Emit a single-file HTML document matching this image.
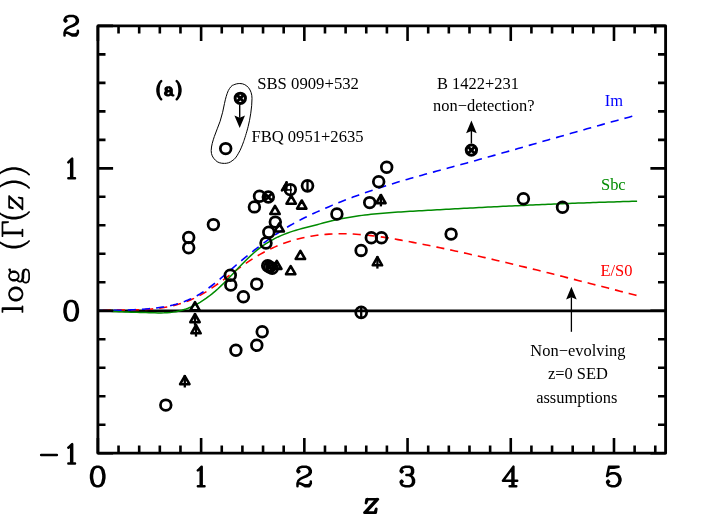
<!DOCTYPE html>
<html><head><meta charset="utf-8"><title>log Gamma(z) vs z</title>
<style>html,body{margin:0;padding:0;background:#fff;}svg{display:block;}text{font-family:"Liberation Serif",serif;}</style>
</head><body>
<div id="plot" style="width:708px;height:529px;will-change:transform;">
<svg width="708" height="529" viewBox="0 0 708 529">
<rect x="0" y="0" width="708" height="529" fill="#fff"/>
<line x1="97.90" y1="310.77" x2="665.60" y2="310.77" stroke="#000" stroke-width="2.75"/>
<path d="M98.00 310.40 L101.00 310.36 L104.00 310.26 L107.00 310.18 L110.00 310.12 L113.00 310.08 L116.00 310.05 L119.00 310.03 L122.00 310.01 L125.00 309.99 L128.00 309.96 L131.00 309.93 L134.00 309.87 L137.00 309.80 L140.00 309.70 L143.00 309.58 L146.00 309.41 L149.00 309.21 L152.00 308.97 L155.00 308.68 L158.00 308.33 L161.00 307.93 L164.00 307.47 L167.00 306.93 L170.00 306.33 L173.00 305.65 L176.00 304.89 L179.00 304.05 L182.00 303.11 L185.00 302.08 L188.00 300.95 L191.00 299.72 L194.00 298.37 L197.00 296.92 L200.00 295.34 L203.00 293.65 L206.00 291.84 L209.00 289.94 L212.00 287.95 L215.00 285.89 L218.00 283.76 L221.00 281.59 L224.00 279.38 L227.00 277.14 L230.00 274.89 L233.00 272.65 L236.00 270.41 L239.00 268.20 L242.00 266.02 L245.00 263.90 L248.00 261.83 L251.00 259.84 L254.00 257.93 L257.00 256.11 L260.00 254.37 L263.00 252.71 L266.00 251.13 L269.00 249.63 L272.00 248.21 L275.00 246.86 L278.00 245.59 L281.00 244.39 L284.00 243.27 L287.00 242.22 L290.00 241.23 L293.00 240.32 L296.00 239.47 L299.00 238.68 L302.00 237.97 L305.00 237.31 L308.00 236.71 L311.00 236.18 L314.00 235.70 L317.00 235.28 L320.00 234.91 L323.00 234.60 L326.00 234.33 L329.00 234.12 L332.00 233.96 L335.00 233.85 L338.00 233.78 L341.00 233.75 L344.00 233.77 L347.00 233.83 L350.00 233.92 L353.00 234.06 L356.00 234.23 L359.00 234.44 L362.00 234.68 L365.00 234.95 L368.00 235.25 L371.00 235.58 L374.00 235.94 L377.00 236.33 L380.00 236.73 L383.00 237.16 L386.00 237.61 L389.00 238.08 L392.00 238.57 L395.00 239.08 L398.00 239.60 L401.00 240.13 L404.00 240.67 L407.00 241.23 L410.00 241.79 L413.00 242.36 L416.00 242.94 L419.00 243.52 L422.00 244.11 L425.00 244.70 L428.00 245.30 L431.00 245.91 L434.00 246.52 L437.00 247.13 L440.00 247.75 L443.00 248.38 L446.00 249.01 L449.00 249.65 L452.00 250.29 L455.00 250.93 L458.00 251.58 L461.00 252.24 L464.00 252.90 L467.00 253.56 L470.00 254.23 L473.00 254.90 L476.00 255.58 L479.00 256.26 L482.00 256.94 L485.00 257.63 L488.00 258.32 L491.00 259.02 L494.00 259.72 L497.00 260.42 L500.00 261.13 L503.00 261.84 L506.00 262.55 L509.00 263.26 L512.00 263.98 L515.00 264.71 L518.00 265.43 L521.00 266.16 L524.00 266.89 L527.00 267.62 L530.00 268.36 L533.00 269.10 L536.00 269.84 L539.00 270.58 L542.00 271.32 L545.00 272.07 L548.00 272.82 L551.00 273.57 L554.00 274.32 L557.00 275.08 L560.00 275.83 L563.00 276.59 L566.00 277.35 L569.00 278.11 L572.00 278.87 L575.00 279.63 L578.00 280.40 L581.00 281.16 L584.00 281.93 L587.00 282.69 L590.00 283.46 L593.00 284.23 L596.00 285.00 L599.00 285.76 L602.00 286.53 L605.00 287.30 L608.00 288.07 L611.00 288.84 L614.00 289.61 L617.00 290.38 L620.00 291.15 L623.00 291.92 L626.00 292.69 L629.00 293.46 L632.00 294.22 L635.00 294.99 L636.50 295.37" fill="none" stroke="#ff0000" stroke-width="1.6" stroke-dasharray="8.1 6.03" stroke-dashoffset="9.36"/>
<path d="M98.00 310.40 L101.00 310.49 L104.00 310.47 L107.00 310.45 L110.00 310.41 L113.00 310.37 L116.00 310.32 L119.00 310.26 L122.00 310.19 L125.00 310.10 L128.00 309.99 L131.00 309.87 L134.00 309.73 L137.00 309.57 L140.00 309.39 L143.00 309.18 L146.00 308.95 L149.00 308.70 L152.00 308.42 L155.00 308.10 L158.00 307.74 L161.00 307.33 L164.00 306.86 L167.00 306.32 L170.00 305.72 L173.00 305.03 L176.00 304.25 L179.00 303.38 L182.00 302.40 L185.00 301.31 L188.00 300.10 L191.00 298.77 L194.00 297.30 L197.00 295.68 L200.00 293.92 L203.00 292.01 L206.00 289.95 L209.00 287.77 L212.00 285.49 L215.00 283.11 L218.00 280.66 L221.00 278.15 L224.00 275.59 L227.00 273.00 L230.00 270.41 L233.00 267.81 L236.00 265.24 L239.00 262.69 L242.00 260.16 L245.00 257.67 L248.00 255.22 L251.00 252.79 L254.00 250.41 L257.00 248.06 L260.00 245.76 L263.00 243.50 L266.00 241.29 L269.00 239.13 L272.00 237.02 L275.00 234.96 L278.00 232.96 L281.00 231.01 L284.00 229.13 L287.00 227.31 L290.00 225.55 L293.00 223.85 L296.00 222.20 L299.00 220.61 L302.00 219.06 L305.00 217.55 L308.00 216.08 L311.00 214.65 L314.00 213.25 L317.00 211.89 L320.00 210.54 L323.00 209.22 L326.00 207.92 L329.00 206.64 L332.00 205.38 L335.00 204.14 L338.00 202.92 L341.00 201.72 L344.00 200.54 L347.00 199.38 L350.00 198.24 L353.00 197.11 L356.00 196.00 L359.00 194.91 L362.00 193.83 L365.00 192.78 L368.00 191.73 L371.00 190.71 L374.00 189.69 L377.00 188.69 L380.00 187.71 L383.00 186.74 L386.00 185.79 L389.00 184.84 L392.00 183.91 L395.00 183.00 L398.00 182.09 L401.00 181.19 L404.00 180.31 L407.00 179.43 L410.00 178.56 L413.00 177.70 L416.00 176.85 L419.00 176.00 L422.00 175.17 L425.00 174.33 L428.00 173.50 L431.00 172.68 L434.00 171.86 L437.00 171.04 L440.00 170.23 L443.00 169.41 L446.00 168.60 L449.00 167.79 L452.00 166.98 L455.00 166.16 L458.00 165.35 L461.00 164.54 L464.00 163.72 L467.00 162.90 L470.00 162.07 L473.00 161.24 L476.00 160.41 L479.00 159.58 L482.00 158.75 L485.00 157.91 L488.00 157.07 L491.00 156.23 L494.00 155.38 L497.00 154.54 L500.00 153.69 L503.00 152.84 L506.00 151.99 L509.00 151.14 L512.00 150.28 L515.00 149.43 L518.00 148.57 L521.00 147.71 L524.00 146.86 L527.00 146.00 L530.00 145.14 L533.00 144.28 L536.00 143.42 L539.00 142.56 L542.00 141.70 L545.00 140.83 L548.00 139.97 L551.00 139.11 L554.00 138.25 L557.00 137.39 L560.00 136.53 L563.00 135.67 L566.00 134.81 L569.00 133.96 L572.00 133.10 L575.00 132.24 L578.00 131.39 L581.00 130.54 L584.00 129.69 L587.00 128.83 L590.00 127.99 L593.00 127.14 L596.00 126.29 L599.00 125.45 L602.00 124.61 L605.00 123.77 L608.00 122.94 L611.00 122.10 L614.00 121.27 L617.00 120.44 L620.00 119.62 L623.00 118.79 L626.00 117.97 L629.00 117.16 L632.00 116.34 L632.30 116.26" fill="none" stroke="#0000ff" stroke-width="1.6" stroke-dasharray="8.14 6.07" stroke-dashoffset="12.88"/>
<path d="M98.00 310.40 L101.00 310.88 L104.00 311.04 L107.00 311.20 L110.00 311.34 L113.00 311.48 L116.00 311.60 L119.00 311.73 L122.00 311.84 L125.00 311.95 L128.00 312.05 L131.00 312.15 L134.00 312.25 L137.00 312.34 L140.00 312.44 L143.00 312.53 L146.00 312.62 L149.00 312.71 L152.00 312.80 L155.00 312.87 L158.00 312.92 L161.00 312.91 L164.00 312.85 L167.00 312.70 L170.00 312.47 L173.00 312.12 L176.00 311.65 L179.00 311.03 L182.00 310.27 L185.00 309.34 L188.00 308.26 L191.00 307.01 L194.00 305.61 L197.00 304.05 L200.00 302.34 L203.00 300.46 L206.00 298.42 L209.00 296.23 L212.00 293.88 L215.00 291.37 L218.00 288.70 L221.00 285.88 L224.00 282.94 L227.00 279.90 L230.00 276.79 L233.00 273.65 L236.00 270.48 L239.00 267.33 L242.00 264.22 L245.00 261.18 L248.00 258.23 L251.00 255.39 L254.00 252.71 L257.00 250.19 L260.00 247.85 L263.00 245.67 L266.00 243.65 L269.00 241.77 L272.00 240.04 L275.00 238.43 L278.00 236.95 L281.00 235.59 L284.00 234.33 L287.00 233.18 L290.00 232.11 L293.00 231.13 L296.00 230.22 L299.00 229.37 L302.00 228.56 L305.00 227.78 L308.00 227.01 L311.00 226.23 L314.00 225.44 L317.00 224.65 L320.00 223.86 L323.00 223.07 L326.00 222.30 L329.00 221.54 L332.00 220.81 L335.00 220.12 L338.00 219.45 L341.00 218.83 L344.00 218.24 L347.00 217.69 L350.00 217.17 L353.00 216.68 L356.00 216.22 L359.00 215.79 L362.00 215.38 L365.00 215.00 L368.00 214.65 L371.00 214.32 L374.00 214.00 L377.00 213.71 L380.00 213.44 L383.00 213.18 L386.00 212.94 L389.00 212.71 L392.00 212.50 L395.00 212.29 L398.00 212.09 L401.00 211.90 L404.00 211.72 L407.00 211.54 L410.00 211.37 L413.00 211.19 L416.00 211.02 L419.00 210.85 L422.00 210.68 L425.00 210.51 L428.00 210.34 L431.00 210.17 L434.00 210.00 L437.00 209.83 L440.00 209.67 L443.00 209.50 L446.00 209.33 L449.00 209.17 L452.00 209.01 L455.00 208.84 L458.00 208.68 L461.00 208.52 L464.00 208.36 L467.00 208.20 L470.00 208.04 L473.00 207.89 L476.00 207.73 L479.00 207.58 L482.00 207.42 L485.00 207.27 L488.00 207.12 L491.00 206.96 L494.00 206.81 L497.00 206.67 L500.00 206.52 L503.00 206.37 L506.00 206.23 L509.00 206.08 L512.00 205.94 L515.00 205.80 L518.00 205.66 L521.00 205.52 L524.00 205.38 L527.00 205.24 L530.00 205.10 L533.00 204.97 L536.00 204.84 L539.00 204.70 L542.00 204.57 L545.00 204.44 L548.00 204.32 L551.00 204.19 L554.00 204.07 L557.00 203.94 L560.00 203.82 L563.00 203.70 L566.00 203.58 L569.00 203.46 L572.00 203.35 L575.00 203.23 L578.00 203.12 L581.00 203.01 L584.00 202.90 L587.00 202.79 L590.00 202.68 L593.00 202.58 L596.00 202.47 L599.00 202.37 L602.00 202.27 L605.00 202.17 L608.00 202.07 L611.00 201.98 L614.00 201.89 L617.00 201.79 L620.00 201.70 L623.00 201.62 L626.00 201.53 L629.00 201.45 L632.00 201.36 L635.00 201.28 L637.10 201.23" fill="none" stroke="#008b00" stroke-width="1.5"/>
<rect x="97.90" y="25.90" width="567.70" height="427.30" fill="none" stroke="#000" stroke-width="2.85" stroke-linejoin="round"/>
<path d="M97.90 453.20v-15.20 M97.90 25.90v15.20 M118.54 453.20v-7.60 M118.54 25.90v7.60 M139.19 453.20v-7.60 M139.19 25.90v7.60 M159.83 453.20v-7.60 M159.83 25.90v7.60 M180.47 453.20v-7.60 M180.47 25.90v7.60 M201.12 453.20v-15.20 M201.12 25.90v15.20 M221.76 453.20v-7.60 M221.76 25.90v7.60 M242.41 453.20v-7.60 M242.41 25.90v7.60 M263.05 453.20v-7.60 M263.05 25.90v7.60 M283.69 453.20v-7.60 M283.69 25.90v7.60 M304.34 453.20v-15.20 M304.34 25.90v15.20 M324.98 453.20v-7.60 M324.98 25.90v7.60 M345.62 453.20v-7.60 M345.62 25.90v7.60 M366.27 453.20v-7.60 M366.27 25.90v7.60 M386.91 453.20v-7.60 M386.91 25.90v7.60 M407.55 453.20v-15.20 M407.55 25.90v15.20 M428.20 453.20v-7.60 M428.20 25.90v7.60 M448.84 453.20v-7.60 M448.84 25.90v7.60 M469.49 453.20v-7.60 M469.49 25.90v7.60 M490.13 453.20v-7.60 M490.13 25.90v7.60 M510.77 453.20v-15.20 M510.77 25.90v15.20 M531.42 453.20v-7.60 M531.42 25.90v7.60 M552.06 453.20v-7.60 M552.06 25.90v7.60 M572.70 453.20v-7.60 M572.70 25.90v7.60 M593.35 453.20v-7.60 M593.35 25.90v7.60 M613.99 453.20v-15.20 M613.99 25.90v15.20 M634.63 453.20v-7.60 M634.63 25.90v7.60 M655.28 453.20v-7.60 M655.28 25.90v7.60 M97.90 453.20h15.20 M665.60 453.20h-15.20 M97.90 424.71h7.60 M665.60 424.71h-7.60 M97.90 396.23h7.60 M665.60 396.23h-7.60 M97.90 367.74h7.60 M665.60 367.74h-7.60 M97.90 339.25h7.60 M665.60 339.25h-7.60 M97.90 310.77h15.20 M665.60 310.77h-15.20 M97.90 282.28h7.60 M665.60 282.28h-7.60 M97.90 253.79h7.60 M665.60 253.79h-7.60 M97.90 225.31h7.60 M665.60 225.31h-7.60 M97.90 196.82h7.60 M665.60 196.82h-7.60 M97.90 168.33h15.20 M665.60 168.33h-15.20 M97.90 139.85h7.60 M665.60 139.85h-7.60 M97.90 111.36h7.60 M665.60 111.36h-7.60 M97.90 82.87h7.60 M665.60 82.87h-7.60 M97.90 54.39h7.60 M665.60 54.39h-7.60 M97.90 25.90h15.20 M665.60 25.90h-15.20" fill="none" stroke="#000" stroke-width="2.6"/>
<path d="M96.75 466.74 L93.90 467.67 L92.00 470.46 L91.05 475.11 L91.05 477.90 L92.00 482.55 L93.90 485.34 L96.75 486.27 L98.65 486.27 L101.50 485.34 L103.40 482.55 L104.35 477.90 L104.35 475.11 L103.40 470.46 L101.50 467.67 L98.65 466.74 L96.75 466.74 M96.75 466.74 L94.85 467.67 L93.90 468.60 L92.95 470.46 L92.00 475.11 L92.00 477.90 L92.95 482.55 L93.90 484.41 L94.85 485.34 L96.75 486.27 M98.65 486.27 L100.55 485.34 L101.50 484.41 L102.45 482.55 L103.40 477.90 L103.40 475.11 L102.45 470.46 L101.50 468.60 L100.55 467.67 L98.65 466.74 M197.87 470.46 L198.82 469.53 L201.67 466.74 L201.67 486.27 M200.72 467.67 L200.72 486.27 M197.87 486.27 L204.52 486.27 M298.44 470.46 L299.39 471.39 L298.44 472.32 L297.49 471.39 L297.49 470.46 L298.44 468.60 L299.39 467.67 L302.24 466.74 L306.04 466.74 L308.89 467.67 L309.84 468.60 L310.79 470.46 L310.79 472.32 L309.84 474.18 L306.99 476.04 L302.24 477.90 L300.34 478.83 L298.44 480.69 L297.49 483.48 L297.49 486.27 M306.04 466.74 L307.94 467.67 L308.89 468.60 L309.84 470.46 L309.84 472.32 L308.89 474.18 L306.04 476.04 L302.24 477.90 M297.49 484.41 L298.44 483.48 L300.34 483.48 L305.09 485.34 L307.94 485.34 L309.84 484.41 L310.79 483.48 M300.34 483.48 L305.09 486.27 L308.89 486.27 L309.84 485.34 L310.79 483.48 L310.79 481.62 M401.65 470.46 L402.60 471.39 L401.65 472.32 L400.70 471.39 L400.70 470.46 L401.65 468.60 L402.60 467.67 L405.45 466.74 L409.25 466.74 L412.10 467.67 L413.05 469.53 L413.05 472.32 L412.10 474.18 L409.25 475.11 L406.40 475.11 M409.25 466.74 L411.15 467.67 L412.10 469.53 L412.10 472.32 L411.15 474.18 L409.25 475.11 M409.25 475.11 L411.15 476.04 L413.05 477.90 L414.00 479.76 L414.00 482.55 L413.05 484.41 L412.10 485.34 L409.25 486.27 L405.45 486.27 L402.60 485.34 L401.65 484.41 L400.70 482.55 L400.70 481.62 L401.65 480.69 L402.60 481.62 L401.65 482.55 M412.10 476.97 L413.05 479.76 L413.05 482.55 L412.10 484.41 L411.15 485.34 L409.25 486.27 M512.47 468.60 L512.47 486.27 M513.42 466.74 L513.42 486.27 M513.42 466.74 L502.97 480.69 L517.22 480.69 M509.62 486.27 L516.27 486.27 M609.04 466.74 L607.14 476.04 M607.14 476.04 L609.04 474.18 L611.89 473.25 L614.74 473.25 L617.59 474.18 L619.49 476.04 L620.44 478.83 L620.44 480.69 L619.49 483.48 L617.59 485.34 L614.74 486.27 L611.89 486.27 L609.04 485.34 L608.09 484.41 L607.14 482.55 L607.14 481.62 L608.09 480.69 L609.04 481.62 L608.09 482.55 M614.74 473.25 L616.64 474.18 L618.54 476.04 L619.49 478.83 L619.49 480.69 L618.54 483.48 L616.64 485.34 L614.74 486.27 M609.04 466.74 L618.54 466.74 M609.04 467.67 L613.79 467.67 L618.54 466.74 M65.50 19.70 L66.45 20.63 L65.50 21.56 L64.55 20.63 L64.55 19.70 L65.50 17.84 L66.45 16.91 L69.30 15.98 L73.10 15.98 L75.95 16.91 L76.90 17.84 L77.85 19.70 L77.85 21.56 L76.90 23.43 L74.05 25.29 L69.30 27.14 L67.40 28.07 L65.50 29.93 L64.55 32.73 L64.55 35.52 M73.10 15.98 L75.00 16.91 L75.95 17.84 L76.90 19.70 L76.90 21.56 L75.95 23.43 L73.10 25.29 L69.30 27.14 M64.55 33.66 L65.50 32.73 L67.40 32.73 L72.15 34.59 L75.00 34.59 L76.90 33.66 L77.85 32.73 M67.40 32.73 L72.15 35.52 L75.95 35.52 L76.90 34.59 L77.85 32.73 L77.85 30.86 M68.35 162.36 L69.30 161.43 L72.15 158.64 L72.15 178.17 M71.20 159.57 L71.20 178.17 M68.35 178.17 L75.00 178.17 M70.25 300.98 L67.40 301.91 L65.50 304.70 L64.55 309.35 L64.55 312.14 L65.50 316.79 L67.40 319.58 L70.25 320.51 L72.15 320.51 L75.00 319.58 L76.90 316.79 L77.85 312.14 L77.85 309.35 L76.90 304.70 L75.00 301.91 L72.15 300.98 L70.25 300.98 M70.25 300.98 L68.35 301.91 L67.40 302.84 L66.45 304.70 L65.50 309.35 L65.50 312.14 L66.45 316.79 L67.40 318.65 L68.35 319.58 L70.25 320.51 M72.15 320.51 L74.05 319.58 L75.00 318.65 L75.95 316.79 L76.90 312.14 L76.90 309.35 L75.95 304.70 L75.00 302.84 L74.05 301.91 L72.15 300.98 M68.35 447.75 L69.30 446.82 L72.15 444.03 L72.15 463.56 M71.20 444.96 L71.20 463.56 M68.35 463.56 L75.00 463.56 M41.15 454.9H56.85" fill="none" stroke="#000" stroke-width="2.5" stroke-linecap="round" stroke-linejoin="round"/>
<path d="M376.89 499.25 L364.51 512.69 M377.82 499.25 L365.44 512.69 M367.59 499.25 L366.04 503.09 L366.66 499.25 L377.82 499.25 M364.51 512.69 L375.67 512.69 L376.28 508.85 L374.74 512.69" fill="none" stroke="#000" stroke-width="2.7" stroke-linecap="round" stroke-linejoin="round"/>
<g transform="translate(13.88 313.90) rotate(-90)"><path d="M4.73 -11.42 L4.73 8.57 M5.68 -11.42 L5.68 8.57 M1.89 -11.42 L5.68 -11.42 M1.89 8.57 L7.58 8.57 M18.94 -4.76 L16.10 -3.81 L14.21 -1.90 L13.26 0.95 L13.26 2.86 L14.21 5.71 L16.10 7.62 L18.94 8.57 L20.83 8.57 L23.67 7.62 L25.57 5.71 L26.52 2.86 L26.52 0.95 L25.57 -1.90 L23.67 -3.81 L20.83 -4.76 L18.94 -4.76 M18.94 -4.76 L17.05 -3.81 L15.15 -1.90 L14.21 0.95 L14.21 2.86 L15.15 5.71 L17.05 7.62 L18.94 8.57 M20.83 8.57 L22.73 7.62 L24.62 5.71 L25.57 2.86 L25.57 0.95 L24.62 -1.90 L22.73 -3.81 L20.83 -4.76 M36.93 -4.76 L35.04 -3.81 L34.09 -2.86 L33.14 -0.95 L33.14 0.95 L34.09 2.86 L35.04 3.81 L36.93 4.76 L38.83 4.76 L40.72 3.81 L41.67 2.86 L42.61 0.95 L42.61 -0.95 L41.67 -2.86 L40.72 -3.81 L38.83 -4.76 L36.93 -4.76 M35.04 -3.81 L34.09 -1.90 L34.09 1.90 L35.04 3.81 M40.72 3.81 L41.67 1.90 L41.67 -1.90 L40.72 -3.81 M41.67 -2.86 L42.61 -3.81 L44.51 -4.76 L44.51 -3.81 L42.61 -3.81 M34.09 2.86 L33.14 3.81 L32.20 5.71 L32.20 6.66 L33.14 8.57 L35.99 9.52 L40.72 9.52 L43.56 10.47 L44.51 11.42 M32.20 6.66 L33.14 7.62 L35.99 8.57 L40.72 8.57 L43.56 9.52 L44.51 11.42 L44.51 12.38 L43.56 14.28 L40.72 15.23 L35.04 15.23 L32.20 14.28 L31.25 12.38 L31.25 11.42 L32.20 9.52 L35.04 8.57 M72.92 -15.23 L71.02 -13.33 L69.13 -10.47 L67.24 -6.66 L66.29 -1.90 L66.29 1.90 L67.24 6.66 L69.13 10.47 L71.02 13.33 L72.92 15.23 M71.02 -13.33 L69.13 -9.52 L68.18 -6.66 L67.24 -1.90 L67.24 1.90 L68.18 6.66 L69.13 9.52 L71.02 13.33 M80.49 -11.42 L80.49 8.57 M81.44 -11.42 L81.44 8.57 M77.65 -11.42 L91.86 -11.42 L91.86 -5.71 L90.91 -11.42 M77.65 8.57 L84.28 8.57 M101.90 -15.23 L100.00 -13.33 L98.11 -10.47 L96.22 -6.66 L95.27 -1.90 L95.27 1.90 L96.22 6.66 L98.11 10.47 L100.00 13.33 L101.90 15.23 M100.00 -13.33 L98.11 -9.52 L97.16 -6.66 L96.22 -1.90 L96.22 1.90 L97.16 6.66 L98.11 9.52 L100.00 13.33 M116.77 -4.76 L104.49 8.57 M117.72 -4.76 L105.43 8.57 M107.30 -4.76 L105.82 -0.95 L106.35 -4.76 L117.72 -4.76 M104.49 8.57 L115.85 8.57 L116.38 4.76 L114.90 8.57 M125.95 -15.23 L127.84 -13.33 L129.74 -10.47 L131.63 -6.66 L132.58 -1.90 L132.58 1.90 L131.63 6.66 L129.74 10.47 L127.84 13.33 L125.95 15.23 M127.84 -13.33 L129.74 -9.52 L130.69 -6.66 L131.63 -1.90 L131.63 1.90 L130.69 6.66 L129.74 9.52 L127.84 13.33 M139.21 -15.23 L141.10 -13.33 L143.00 -10.47 L144.89 -6.66 L145.84 -1.90 L145.84 1.90 L144.89 6.66 L143.00 10.47 L141.10 13.33 L139.21 15.23 M141.10 -13.33 L143.00 -9.52 L143.94 -6.66 L144.89 -1.90 L144.89 1.90 L143.94 6.66 L143.00 9.52 L141.10 13.33" fill="none" stroke="#000" stroke-width="1.7" stroke-linecap="round" stroke-linejoin="round"/></g>
<path d="M161.25 81.08 L160.15 82.22 L159.05 83.93 L157.95 86.21 L157.40 89.06 L157.40 91.34 L157.95 94.19 L159.05 96.47 L160.15 98.18 L161.25 99.32 M159.05 84.50 L158.50 86.21 L157.95 88.49 L157.95 91.91 L158.50 94.19 L159.05 95.90 M160.15 82.22 L159.60 83.36 L159.05 85.07 L158.50 88.49 L158.50 91.91 L159.05 95.33 L159.60 97.04 L160.15 98.18 M166.20 89.06 L166.20 88.49 L166.75 88.49 L166.75 89.63 L165.65 89.63 L165.65 88.49 L166.20 87.92 L167.30 87.35 L169.50 87.35 L170.60 87.92 L171.15 88.49 L171.70 89.63 L171.70 93.62 L172.25 94.76 L172.80 95.33 M170.60 88.49 L171.15 89.63 L171.15 93.62 L171.70 94.76 M169.50 87.35 L170.05 87.92 L170.60 89.06 L170.60 93.62 L171.15 94.76 L172.80 95.33 L173.35 95.33 M170.60 90.20 L170.05 90.77 L167.30 91.34 L165.65 91.91 L165.10 93.05 L165.10 93.62 L165.65 94.76 L167.30 95.33 L168.95 95.33 L170.05 94.76 L170.60 93.62 M166.20 91.91 L165.65 93.05 L165.65 93.62 L166.20 94.76 M170.05 90.77 L167.85 91.34 L166.75 91.91 L166.20 93.05 L166.20 93.62 L166.75 94.76 L167.30 95.33 M176.65 81.08 L177.75 82.22 L178.85 83.93 L179.95 86.21 L180.50 89.06 L180.50 91.34 L179.95 94.19 L178.85 96.47 L177.75 98.18 L176.65 99.32 M178.85 84.50 L179.40 86.21 L179.95 88.49 L179.95 91.91 L179.40 94.19 L178.85 95.90 M177.75 82.22 L178.30 83.36 L178.85 85.07 L179.40 88.49 L179.40 91.91 L178.85 95.33 L178.30 97.04 L177.75 98.18" fill="none" stroke="#000" stroke-width="2.35" stroke-linecap="round" stroke-linejoin="round"/>
<circle cx="225.7" cy="148.6" r="5.35" fill="none" stroke="#000" stroke-width="2.75"/>
<circle cx="188.7" cy="237.5" r="5.35" fill="none" stroke="#000" stroke-width="2.75"/>
<circle cx="188.7" cy="247.8" r="5.35" fill="none" stroke="#000" stroke-width="2.75"/>
<circle cx="213.4" cy="224.6" r="5.35" fill="none" stroke="#000" stroke-width="2.75"/>
<circle cx="254.4" cy="206.9" r="5.35" fill="none" stroke="#000" stroke-width="2.75"/>
<circle cx="259.5" cy="196.3" r="5.35" fill="none" stroke="#000" stroke-width="2.75"/>
<circle cx="275.3" cy="222.1" r="5.35" fill="none" stroke="#000" stroke-width="2.75"/>
<circle cx="268.8" cy="232.2" r="5.35" fill="none" stroke="#000" stroke-width="2.75"/>
<circle cx="266.0" cy="243.0" r="5.35" fill="none" stroke="#000" stroke-width="2.75"/>
<circle cx="230.3" cy="275.2" r="5.35" fill="none" stroke="#000" stroke-width="2.75"/>
<circle cx="230.8" cy="284.9" r="5.35" fill="none" stroke="#000" stroke-width="2.75"/>
<circle cx="256.7" cy="284.1" r="5.35" fill="none" stroke="#000" stroke-width="2.75"/>
<circle cx="243.4" cy="296.8" r="5.35" fill="none" stroke="#000" stroke-width="2.75"/>
<circle cx="336.9" cy="214.0" r="5.35" fill="none" stroke="#000" stroke-width="2.75"/>
<circle cx="165.8" cy="405.1" r="5.35" fill="none" stroke="#000" stroke-width="2.75"/>
<circle cx="235.9" cy="350.2" r="5.35" fill="none" stroke="#000" stroke-width="2.75"/>
<circle cx="256.8" cy="345.3" r="5.35" fill="none" stroke="#000" stroke-width="2.75"/>
<circle cx="262.2" cy="331.8" r="5.35" fill="none" stroke="#000" stroke-width="2.75"/>
<circle cx="386.7" cy="167.2" r="5.35" fill="none" stroke="#000" stroke-width="2.75"/>
<circle cx="378.7" cy="181.7" r="5.35" fill="none" stroke="#000" stroke-width="2.75"/>
<circle cx="369.7" cy="202.6" r="5.35" fill="none" stroke="#000" stroke-width="2.75"/>
<circle cx="371.3" cy="237.8" r="5.35" fill="none" stroke="#000" stroke-width="2.75"/>
<circle cx="381.5" cy="237.8" r="5.35" fill="none" stroke="#000" stroke-width="2.75"/>
<circle cx="361.1" cy="250.4" r="5.35" fill="none" stroke="#000" stroke-width="2.75"/>
<circle cx="451.1" cy="234.1" r="5.35" fill="none" stroke="#000" stroke-width="2.75"/>
<circle cx="523.4" cy="198.8" r="5.35" fill="none" stroke="#000" stroke-width="2.75"/>
<circle cx="562.5" cy="207.3" r="5.35" fill="none" stroke="#000" stroke-width="2.75"/>
<circle cx="267.7" cy="265.8" r="5.35" fill="none" stroke="#000" stroke-width="2.75"/>
<circle cx="272.2" cy="268.2" r="5.35" fill="none" stroke="#000" stroke-width="2.75"/>
<circle cx="268.3" cy="197.0" r="5.35" fill="none" stroke="#000" stroke-width="2.75"/>
<path d="M264.52 193.22L272.08 200.78M264.52 200.78L272.08 193.22" stroke="#000" stroke-width="2.9" fill="none"/>
<circle cx="269.6" cy="266.9" r="5.35" fill="none" stroke="#000" stroke-width="2.75"/>
<path d="M265.82 263.12L273.38 270.68M265.82 270.68L273.38 263.12" stroke="#000" stroke-width="2.9" fill="none"/>
<circle cx="240.3" cy="98.3" r="5.15" fill="none" stroke="#000" stroke-width="3.0"/>
<path d="M236.66 94.66L243.94 101.94M236.66 101.94L243.94 94.66" stroke="#000" stroke-width="3.0" fill="none"/>
<circle cx="471.4" cy="150.1" r="5.15" fill="none" stroke="#000" stroke-width="3.0"/>
<path d="M467.76 146.46L475.04 153.74M467.76 153.74L475.04 146.46" stroke="#000" stroke-width="3.0" fill="none"/>
<circle cx="307.5" cy="185.8" r="5.449999999999999" fill="none" stroke="#000" stroke-width="2.75"/>
<path d="M307.50 180.45V191.15" stroke="#000" stroke-width="2.3" fill="none"/>
<circle cx="361.2" cy="312.4" r="5.449999999999999" fill="none" stroke="#000" stroke-width="2.75"/>
<path d="M361.20 307.05V317.75" stroke="#000" stroke-width="2.3" fill="none"/>
<path d="M291.20 195.60L295.88 203.70L286.52 203.70Z" fill="none" stroke="#000" stroke-width="2.6" stroke-linejoin="round"/>
<path d="M301.75 200.50L306.43 208.60L297.07 208.60Z" fill="none" stroke="#000" stroke-width="2.6" stroke-linejoin="round"/>
<path d="M275.00 205.90L279.68 214.00L270.32 214.00Z" fill="none" stroke="#000" stroke-width="2.6" stroke-linejoin="round"/>
<path d="M279.20 223.40L283.88 231.50L274.52 231.50Z" fill="none" stroke="#000" stroke-width="2.6" stroke-linejoin="round"/>
<path d="M300.40 250.90L305.08 259.00L295.72 259.00Z" fill="none" stroke="#000" stroke-width="2.6" stroke-linejoin="round"/>
<path d="M290.70 266.10L295.38 274.20L286.02 274.20Z" fill="none" stroke="#000" stroke-width="2.6" stroke-linejoin="round"/>
<path d="M276.80 260.80L281.48 268.90L272.12 268.90Z" fill="none" stroke="#000" stroke-width="2.6" stroke-linejoin="round"/>
<path d="M195.00 302.20L199.68 310.30L190.32 310.30Z" fill="none" stroke="#000" stroke-width="2.6" stroke-linejoin="round"/>
<path d="M184.80 376.10L189.48 384.20L180.12 384.20Z" fill="none" stroke="#000" stroke-width="2.6" stroke-linejoin="round"/>
<path d="M184.80 375.10V387.50" stroke="#000" stroke-width="2.3" fill="none"/>
<path d="M195.00 314.10L199.68 322.20L190.32 322.20Z" fill="none" stroke="#000" stroke-width="2.6" stroke-linejoin="round"/>
<path d="M195.00 313.10V325.50" stroke="#000" stroke-width="2.3" fill="none"/>
<path d="M196.00 325.20L200.68 333.30L191.32 333.30Z" fill="none" stroke="#000" stroke-width="2.6" stroke-linejoin="round"/>
<path d="M196.00 324.20V336.60" stroke="#000" stroke-width="2.3" fill="none"/>
<path d="M380.90 195.00L385.58 203.10L376.22 203.10Z" fill="none" stroke="#000" stroke-width="2.6" stroke-linejoin="round"/>
<path d="M380.90 194.00V206.40" stroke="#000" stroke-width="2.3" fill="none"/>
<path d="M377.40 257.20L382.08 265.30L372.72 265.30Z" fill="none" stroke="#000" stroke-width="2.6" stroke-linejoin="round"/>
<path d="M377.40 256.20V268.60" stroke="#000" stroke-width="2.3" fill="none"/>
<path d="M286.66 182.3L281.98 190.4" fill="none" stroke="#000" stroke-width="2.6" stroke-linecap="round"/>
<path d="M286.4 182.5V190M284.6 186V190" fill="none" stroke="#000" stroke-width="2.4" stroke-linecap="round"/>
<path d="M281.5 189.9H292" fill="none" stroke="#000" stroke-width="1.6"/>
<path d="M290.75 184V195.5" fill="none" stroke="#000" stroke-width="1.5"/>
<circle cx="290.3" cy="189.6" r="5.35" fill="none" stroke="#000" stroke-width="2.75"/>
<path d="M239.8 83.5 C247 83.5 252 90 252 98.3 C252 108 250 119 248.2 126.4 C246.5 133 244.5 139 243.6 141.7 C242 146 240.5 150 238.5 153.2 C236.5 157 234.5 159.5 232.1 160.8 C230 162.5 227.5 163.4 224.5 163.4 C220.5 163.4 217.5 162.5 215.5 160.3 C212.5 157.5 211.2 154.5 211.2 150.6 C211.2 146 213 140.5 214.3 136.6 C216 131.5 218.5 126 220.1 121.3 C222 115.5 223.5 109 224.5 103.4 C225.5 98.5 226.8 94 228.3 90.6 C230 87.5 232 85 233.4 85 C235.5 84 237.5 83.5 239.8 83.5 Z" fill="none" stroke="#000" stroke-width="1"/>
<path d="M239.70 104.50V117.69" stroke="#000" stroke-width="1.4" fill="none"/><path d="M239.70 128.10L245.00 115.40L239.70 117.69L234.40 115.40Z" fill="#000"/>
<path d="M471.40 143.50V131.01" stroke="#000" stroke-width="1.4" fill="none"/><path d="M471.40 120.60L476.70 133.30L471.40 131.01L466.10 133.30Z" fill="#000"/>
<path d="M571.40 331.80V297.21" stroke="#000" stroke-width="1.3" fill="none"/><path d="M571.40 286.80L576.70 299.50L571.40 297.21L566.10 299.50Z" fill="#000"/>
<g font-family="Liberation Serif, serif" font-size="16.65px">
<text transform="translate(257.20 88.60) scale(1 1.016)" font-size="16.7px" text-anchor="start" fill="#000">SBS 0909+532</text>
<text transform="translate(251.40 142.20) scale(1 1.023)" font-size="16.6px" text-anchor="start" fill="#000">FBQ 0951+2635</text>
<text transform="translate(437.00 88.50) scale(1 1.032)" font-size="16.45px" text-anchor="start" fill="#000">B 1422+231</text>
<text transform="translate(433.00 110.60) scale(1 1.032)" font-size="16.45px" text-anchor="start" fill="#000">non−detection?</text>
<text transform="translate(604.80 105.50) scale(1 1.032)" font-size="16.45px" text-anchor="start" fill="#0000ff">Im</text>
<text transform="translate(601.00 189.80) scale(1 1.032)" font-size="16.45px" text-anchor="start" fill="#008b00">Sbc</text>
<text transform="translate(600.50 275.50) scale(1 1.032)" font-size="16.45px" text-anchor="start" fill="#ff0000">E/S0</text>
<text transform="translate(577.90 355.50) scale(1 1.032)" font-size="16.45px" text-anchor="middle" fill="#000">Non−evolving</text>
<text transform="translate(577.90 379.00) scale(1 1.032)" font-size="16.45px" text-anchor="middle" fill="#000">z=0 SED</text>
<text transform="translate(576.80 402.80) scale(1 1.032)" font-size="16.45px" text-anchor="middle" fill="#000">assumptions</text>
</g>
</svg>
</div>
</body></html>
